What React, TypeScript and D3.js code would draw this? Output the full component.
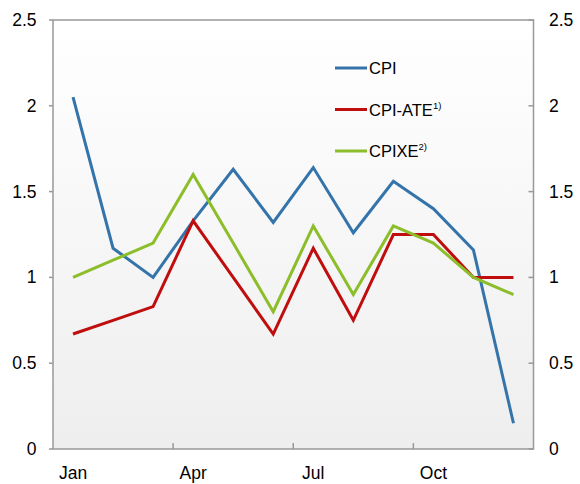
import React from "react";
import * as d3 from "d3";

const months = ["Jan", "Feb", "Mar", "Apr", "May", "Jun", "Jul", "Aug", "Sep", "Oct", "Nov", "Dec"];
const cpi = [2.05, 1.17, 1.0, 1.33, 1.63, 1.32, 1.64, 1.26, 1.56, 1.4, 1.16, 0.15];
const cpiAte = [0.67, 0.75, 0.83, 1.33, 1.0, 0.67, 1.17, 0.75, 1.25, 1.25, 1.0, 1.0];
const cpixe = [1.0, 1.1, 1.2, 1.6, 1.2, 0.8, 1.3, 0.9, 1.3, 1.2, 1.0, 0.9];
const yTicks = [0, 0.5, 1, 1.5, 2, 2.5];
const xLabels = ["Jan", "Apr", "Jul", "Oct"];
const seriesNames = ["CPI", "CPI-ATE", "CPIXE"];
const seriesSup = ["", "1)", "2)"];
const seriesColors = ["#3474aa", "#c00d0d", "#8cbd2a"];

export default function App() {
  const W = 580, H = 484;
  const left = 53, right = 533.5, top = 20, bottom = 449;
  const x = d3.scaleBand<string>().domain(months).range([left, right]);
  const y = d3.scaleLinear().domain([0, 2.5]).range([bottom, top]);
  const line = d3
    .line<number>()
    .x((_, i) => (x(months[i]) as number) + x.bandwidth() / 2)
    .y((d) => y(d));
  const allSeries = [cpi, cpiAte, cpixe];
  const font = "Liberation Sans, Arial, sans-serif";
  const boundaries = [0, 3, 6, 9, 12];
  return (
    <svg width={W} height={H} style={{ position: "absolute", left: 0, top: 0 }}>
      <defs>
        <linearGradient id="bg" x1="0" y1="0" x2="0" y2="1">
          <stop offset="0" stopColor="#ffffff" />
          <stop offset="1" stopColor="#eeeeee" />
        </linearGradient>
      </defs>
      <rect x={left} y={top} width={right - left} height={bottom - top} fill="url(#bg)" />
      <rect x={left} y={top} width={right - left} height={bottom - top} fill="none" stroke="#999" strokeWidth={1.5} />
      {yTicks.map((t) => (
        <g key={t}>
          <line x1={left - 4} x2={left} y1={y(t)} y2={y(t)} stroke="#999" strokeWidth={1.5} />
          <line x1={right - 5} x2={right} y1={y(t)} y2={y(t)} stroke="#999" strokeWidth={1.5} />
          <text x={36.5} y={y(t)} textAnchor="end" dominantBaseline="central" fontFamily={font} fontSize={17.5} fill="#000">
            {String(t)}
          </text>
          <text x={549} y={y(t)} textAnchor="start" dominantBaseline="central" fontFamily={font} fontSize={17.5} fill="#000">
            {String(t)}
          </text>
        </g>
      ))}
      {boundaries.slice(1, 4).map((b) => {
        const xv = left + b * x.step();
        return <line key={b} x1={xv} x2={xv} y1={bottom - 6} y2={bottom} stroke="#999" strokeWidth={1.5} />;
      })}
      {xLabels.map((m) => (
        <text key={m} x={(x(m) as number) + x.bandwidth() / 2} y={472.5} textAnchor="middle" dominantBaseline="central" fontFamily={font} fontSize={17.5} fill="#000">
          {m}
        </text>
      ))}
      {allSeries.map((s, i) => (
        <path key={i} d={line(s) || ""} fill="none" stroke={seriesColors[i]} strokeWidth={3} strokeLinejoin="miter" />
      ))}
      {seriesNames.map((n, i) => {
        const ly = 68 + i * 41.5;
        return (
          <g key={n}>
            <line x1={335} x2={367} y1={ly} y2={ly} stroke={seriesColors[i]} strokeWidth={3} />
            <text x={369} y={ly} dominantBaseline="central" fontFamily={font} fontSize={16.5} fill="#000">
              {n}
              {seriesSup[i] && (
                <tspan fontSize={9.5} dy={-5}>
                  {seriesSup[i]}
                </tspan>
              )}
            </text>
          </g>
        );
      })}
    </svg>
  );
}
